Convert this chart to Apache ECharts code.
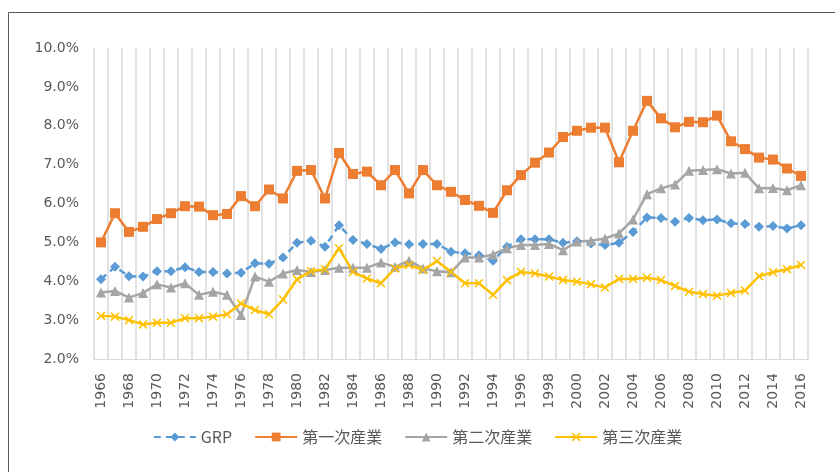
<!DOCTYPE html>
<html><head><meta charset="utf-8">
<script src="https://cdn.jsdelivr.net/npm/echarts@6/dist/echarts.min.js"></script>
<style>html,body{margin:0;padding:0;background:#fff}#c{width:835px;height:472px}</style>
</head><body><div id="c"></div>
<script>
const years = ['1966','1967','1968','1969','1970','1971','1972','1973','1974','1975','1976','1977','1978','1979','1980','1981','1982','1983','1984','1985','1986','1987','1988','1989','1990','1991','1992','1993','1994','1995','1996','1997','1998','1999','2000','2001','2002','2003','2004','2005','2006','2007','2008','2009','2010','2011','2012','2013','2014','2015','2016'];
const seriesNames = ['GRP','第一次産業','第二次産業','第三次産業'];
const grp = [4.05,4.37,4.13,4.12,4.26,4.26,4.36, 4.24,4.24,4.20,4.22,4.46,4.45,4.61,4.99, 5.04,4.89,5.44,5.06,4.96,4.83,5.00, 4.95,4.96,4.96,4.76,4.72,4.67,4.53,4.89, 5.08,5.08,5.08,4.99,5.03,4.97,4.93, 4.99,5.27,5.64,5.63,5.53,5.63,5.57,5.59, 5.49,5.47,5.40,5.42,5.36,5.44];
const primary = [5.00,5.75,5.27,5.40,5.60,5.75,5.93, 5.92,5.70,5.73,6.19,5.93,6.36,6.13,6.84, 6.86,6.13,7.30,6.76,6.82,6.47,6.86, 6.26,6.86,6.47,6.30,6.09,5.94,5.76,6.34, 6.73,7.05,7.31,7.71,7.87,7.95,7.95, 7.06,7.87,8.64,8.19,7.96,8.10,8.09,8.26, 7.60,7.40,7.18,7.13,6.90,6.71];
const secondary = [3.71,3.75,3.58,3.70,3.92,3.84,3.95, 3.65,3.73,3.65,3.13,4.12,3.99,4.20,4.29, 4.24,4.29,4.35,4.35,4.35,4.48,4.37, 4.53,4.33,4.26,4.23,4.61,4.61,4.69,4.85, 4.93,4.93,4.96,4.80,5.02,5.04,5.10, 5.23,5.59,6.24,6.39,6.49,6.84,6.86,6.88, 6.77,6.79,6.39,6.40,6.34,6.47];
const tertiary = [3.11,3.09,3.00,2.89,2.93,2.93,3.05, 3.05,3.09,3.15,3.43,3.26,3.15,3.53,4.05, 4.26,4.31,4.85,4.24,4.07,3.95,4.33, 4.42,4.29,4.52,4.24,3.95,3.95,3.65,4.03, 4.24,4.20,4.12,4.03,3.99,3.92,3.84, 4.06,4.06,4.09,4.03,3.88,3.73,3.67,3.63, 3.70,3.76,4.13,4.23,4.31,4.42];
const yMin = 2, yMax = 10, yStep = 1;

const xPath = 'path://M0,1.2 L1.2,0 L5,3.8 L8.8,0 L10,1.2 L6.2,5 L10,8.8 L8.8,10 L5,6.2 L1.2,10 L0,8.8 L3.8,5 Z';
const chart = echarts.init(document.getElementById('c'), null, {renderer:'canvas'});
const lbl = {color:'#595959', fontFamily:'DejaVu Sans', fontSize:14};
function mk(name, data, color, symbol, size, dashed){
  return {name, type:'line', data, symbol, symbolSize:size, showSymbol:true, showAllSymbol:true,
    lineStyle:{color, width:2.5, type: dashed ? [7,5] : 'solid'},
    itemStyle:{color, borderWidth:0}, animation:false};
}
chart.setOption({
  animation:false,
  backgroundColor:'#fff',
  graphic:[{type:'rect', left:6, top:10, shape:{width:900, height:600}, style:{fill:'none', stroke:'#595959', lineWidth:1}, z:-1}],
  grid:{left:94, right:27, top:48, bottom:113},
  xAxis:{type:'category', data:years, boundaryGap:true,
    axisLine:{lineStyle:{color:'#d9d9d9', width:1}},
    axisTick:{show:false},
    axisLabel:Object.assign({rotate:90, interval:1, margin:14}, lbl),
    splitLine:{show:true, interval:0, lineStyle:{color:'#d9d9d9', width:1.5}}},
  yAxis:{type:'value', min:yMin, max:yMax, interval:yStep,
    axisLine:{show:false}, axisTick:{show:false}, splitLine:{show:false},
    axisLabel:Object.assign({margin:15, formatter:v=>v.toFixed(1)+'%'}, lbl)},
  legend:{bottom:22, left:'center', itemWidth:42, itemHeight:11, itemGap:22,
    textStyle:{color:'#595959', fontSize:16, fontFamily:'Noto Sans CJK JP'},
    data:seriesNames},
  series:[
    mk(seriesNames[0], grp, '#5B9BD5', 'diamond', 10, true),
    mk(seriesNames[1], primary, '#ED7D31', 'rect', 10, false),
    mk(seriesNames[2], secondary, '#A5A5A5', 'triangle', 10, false),
    mk(seriesNames[3], tertiary, '#FFC000', xPath, 9, false)
  ]
});
</script></body></html>
